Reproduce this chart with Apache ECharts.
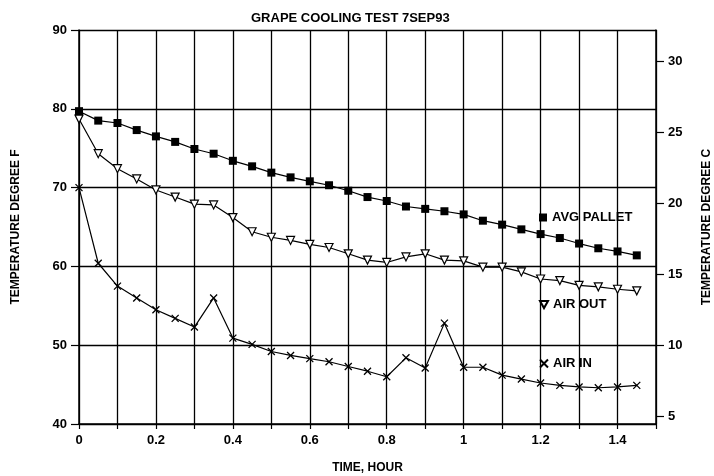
<!DOCTYPE html>
<html>
<head>
<meta charset="utf-8">
<title>Grape cooling test</title>
<script src="https://cdn.jsdelivr.net/npm/echarts@6/dist/echarts.min.js"></script>
<style>
  html, body { margin: 0; padding: 0; background: #fff; }
  #chart { width: 714px; height: 476px; }
</style>
</head>
<body>
<div id="chart"></div>
<script>
// time in hours, one reading every 3 minutes
const hours = [0, 0.05, 0.1, 0.15, 0.2, 0.25, 0.3, 0.35, 0.4, 0.45, 0.5, 0.55, 0.6, 0.65, 0.7,
  0.75, 0.8, 0.85, 0.9, 0.95, 1.0, 1.05, 1.1, 1.15, 1.2, 1.25, 1.3, 1.35, 1.4, 1.45];
// temperatures, degree F
const avgPallet = [79.7, 78.5, 78.2, 77.3, 76.5, 75.8, 74.9, 74.3, 73.4, 72.7, 71.9, 71.3, 70.8, 70.3, 69.6,
  68.8, 68.3, 67.6, 67.3, 67.0, 66.6, 65.8, 65.3, 64.7, 64.1, 63.6, 62.9, 62.3, 61.9, 61.4];
const airOut = [78.7, 74.3, 72.4, 71.1, 69.7, 68.8, 67.9, 67.8, 66.2, 64.4, 63.7, 63.3, 62.8, 62.4, 61.6,
  60.8, 60.5, 61.2, 61.6, 60.8, 60.7, 59.9, 59.9, 59.3, 58.4, 58.2, 57.6, 57.4, 57.1, 56.9];
const airIn = [70.0, 60.4, 57.5, 56.0, 54.5, 53.4, 52.3, 56.0, 50.9, 50.1, 49.2, 48.7, 48.3, 47.9, 47.3,
  46.7, 46.0, 48.4, 47.1, 52.8, 47.2, 47.2, 46.2, 45.7, 45.2, 44.9, 44.7, 44.6, 44.7, 44.9];
const celsiusTicks = [5, 10, 15, 20, 25, 30];

const fMin = 40, fMax = 90;
const toC = f => (f - 32) * 5 / 9;

const FONT = "'Liberation Sans Narrow', 'Liberation Sans', Arial, sans-serif";
const pairs = arr => hours.map((h, i) => [h, arr[i]]);

const triDown = 'path://M0,0L10,0L5,9Z';
const cross = 'path://M0,0L10,10M10,0L0,10';

const lineBase = {
  type: 'line',
  lineStyle: { color: '#000', width: 1.2 },
  emphasis: { disabled: true },
  animation: false
};

const legendBase = {
  orient: 'vertical',
  padding: 0,
  itemWidth: 8,
  itemHeight: 8,
  itemGap: 0,
  selectedMode: false,
  textStyle: { fontFamily: FONT, fontWeight: 'bold', fontSize: 13, color: '#000' }
};

const chart = echarts.init(document.getElementById('chart'));
chart.setOption({
  backgroundColor: '#fff',
  title: {
    text: 'GRAPE COOLING TEST 7SEP93',
    left: 246,
    top: 7,
    textStyle: { fontFamily: FONT, fontWeight: 'bold', fontSize: 13, color: '#000' }
  },
  legend: [
    Object.assign({}, legendBase, { left: 539, top: 211, data: [{ name: 'AVG PALLET', icon: 'rect' }] }),
    Object.assign({}, legendBase, { left: 539, top: 298, data: [{ name: 'AIR OUT', icon: triDown }] }),
    Object.assign({}, legendBase, { left: 539, top: 357, data: [{ name: 'AIR IN', icon: cross }] })
  ],
  grid: { left: 79, right: 58, top: 30, bottom: 52, outerBoundsMode: 'none' },
  xAxis: {
    type: 'value',
    min: 0,
    max: 1.5,
    interval: 0.1,
    name: 'TIME, HOUR',
    nameLocation: 'middle',
    nameGap: 38,
    nameTextStyle: { fontFamily: FONT, fontWeight: 'bold', fontSize: 12, color: '#000' },
    axisLine: { lineStyle: { color: '#000', width: 1.5 } },
    axisTick: { show: true, length: 5, lineStyle: { color: '#000', width: 1.2 } },
    axisLabel: {
      fontFamily: FONT, fontWeight: 'bold', fontSize: 13, color: '#000', margin: 10,
      formatter: v => {
        const k = Math.round(v * 10);
        return (k % 2 === 0 && k < 15) ? String(k / 10) : '';
      }
    },
    splitLine: { show: true, lineStyle: { color: '#000', width: 1.3 } }
  },
  yAxis: [
    {
      type: 'value',
      min: fMin,
      max: fMax,
      interval: 10,
      name: 'TEMPERATURE DEGREE F',
      nameLocation: 'middle',
      nameRotate: 90,
      nameGap: 57,
      nameTextStyle: { fontFamily: FONT, fontWeight: 'bold', fontSize: 12, color: '#000' },
      axisLine: { show: true, lineStyle: { color: '#000', width: 1.5 } },
      axisTick: { show: true, length: 8, lineStyle: { color: '#000', width: 1.2 } },
      axisLabel: { fontFamily: FONT, fontWeight: 'bold', fontSize: 13, color: '#000', margin: 12 },
      splitLine: { show: true, lineStyle: { color: '#000', width: 1.3 } }
    },
    {
      type: 'value',
      position: 'right',
      min: toC(fMin),
      max: toC(fMax),
      name: 'TEMPERATURE DEGREE C',
      nameLocation: 'middle',
      nameRotate: 90,
      nameGap: 45,
      nameTextStyle: { fontFamily: FONT, fontWeight: 'bold', fontSize: 12, color: '#000' },
      axisLine: { show: true, lineStyle: { color: '#000', width: 1.5 } },
      axisTick: { show: true, length: 8, customValues: celsiusTicks, lineStyle: { color: '#000', width: 1.2 } },
      axisLabel: { fontFamily: FONT, fontWeight: 'bold', fontSize: 13, color: '#000', margin: 12, customValues: celsiusTicks },
      splitLine: { show: false }
    }
  ],
  series: [
    Object.assign({}, lineBase, {
      name: 'AVG PALLET',
      symbol: 'rect',
      symbolSize: 8,
      itemStyle: { color: '#000' },
      data: pairs(avgPallet)
    }),
    Object.assign({}, lineBase, {
      name: 'AIR OUT',
      symbol: triDown,
      symbolSize: 8,
      itemStyle: { color: '#fff', borderColor: '#000', borderWidth: 1.2 },
      data: pairs(airOut)
    }),
    Object.assign({}, lineBase, {
      name: 'AIR IN',
      symbol: cross,
      symbolSize: 7,
      itemStyle: { color: '#000', borderColor: '#000', borderWidth: 1.3 },
      data: pairs(airIn)
    })
  ]
});
</script>
</body>
</html>
